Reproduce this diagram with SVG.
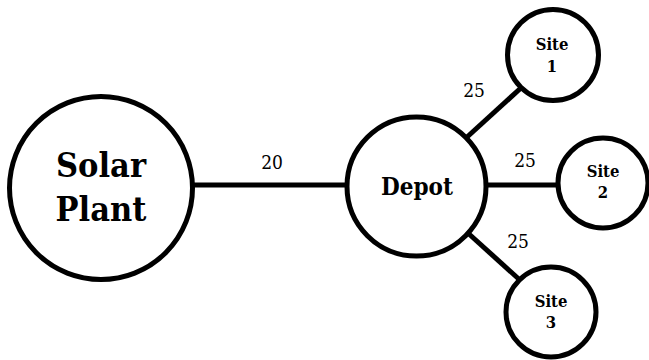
<svg xmlns="http://www.w3.org/2000/svg" width="649" height="360" viewBox="0 0 649 360">
<style>
.node{fill:#fff;stroke:#000;stroke-width:5}
.edge{stroke:#000;stroke-width:5;fill:none}
text{font-family:"DejaVu Serif Condensed","DejaVu Serif",serif;font-stretch:condensed;fill:#000;text-anchor:middle}
.b{font-weight:bold}
.el{font-size:19px}
</style>
<rect width="649" height="360" fill="#fff"/>
<g id="connectors">
<line class="edge" x1="190" y1="185" x2="348" y2="185"/>
<line class="edge" x1="466" y1="138" x2="522" y2="87"/>
<line class="edge" x1="485" y1="185" x2="560" y2="185"/>
<line class="edge" x1="469" y1="234" x2="521" y2="281"/>
<text class="el" x="272" y="169">20</text>
<text class="el" x="474" y="97">25</text>
<text class="el" x="525" y="167">25</text>
<text class="el" x="518" y="248">25</text>
</g>
<g id="solar">
<circle class="node" cx="101" cy="188" r="91.5"/>
<text class="b" x="101" y="177" font-size="34">Solar</text>
<text class="b" x="101" y="221" font-size="34">Plant</text>
</g>
<g id="depot">
<circle class="node" cx="416.5" cy="186.5" r="69.5"/>
<text class="b" x="417" y="195" font-size="24">Depot</text>
</g>
<g id="site1">
<circle class="node" cx="553" cy="55" r="45.5"/>
<text class="b" x="552" y="50" font-size="16.5">Site</text>
<text class="b" x="552" y="72" font-size="16.5">1</text>
</g>
<g id="site2">
<circle class="node" cx="603" cy="183" r="45"/>
<text class="b" x="603" y="177" font-size="16.5">Site</text>
<text class="b" x="603" y="198" font-size="16.5">2</text>
</g>
<g id="site3">
<circle class="node" cx="551" cy="312" r="45"/>
<text class="b" x="551" y="307" font-size="16.5">Site</text>
<text class="b" x="551" y="328" font-size="16.5">3</text>
</g>
</svg>
